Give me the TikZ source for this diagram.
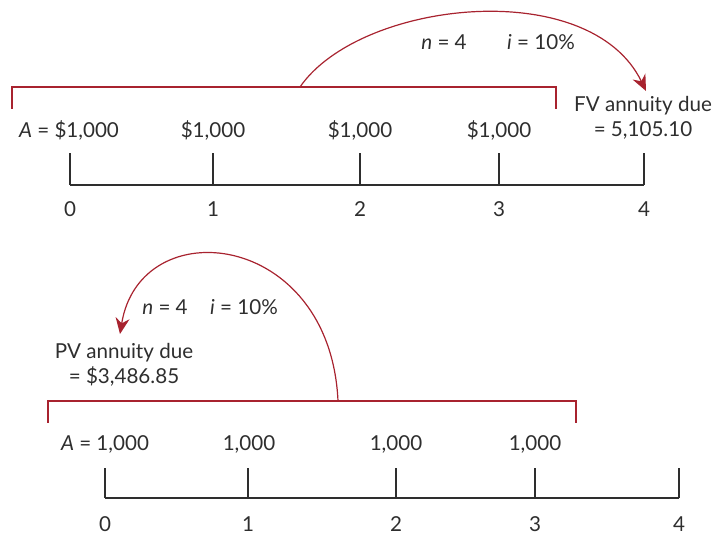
\documentclass[tikz,border=0pt]{standalone}
\usepackage{fontspec}
\setmainfont{Lato}
\usetikzlibrary{arrows.meta}
\definecolor{tRed}{HTML}{A8232F}
\definecolor{tInk}{HTML}{2E2E2E}
\tikzset{
  tline/.style={draw=tInk, line width=0.75pt},
  tbrace/.style={draw=tRed, line width=0.6pt},
  tarc/.style={draw=tRed, line width=0.6pt, -{Stealth[length=8pt,width=7pt]}},
  tnum/.style={font=\fontsize{10.3}{12.5}\selectfont, text=tInk, inner sep=0pt, align=center},
}

\begin{document}
\begin{tikzpicture}[x=0.5pt, y=-0.5pt]
  \useasboundingbox (0,0) rectangle (717,533);
  % future value line
  \foreach \k/\x in {0/70,1/213,2/360,3/499,4/644} {
    \coordinate (fb\k) at (\x,185);
    \coordinate (ft\k) at (\x,153);
    \node[tnum] (fl\k) at (\x,209) {\k};
    \draw[tline] (fb\k) -- (ft\k);
  }
  \draw[tline] (fb0) -- (fb4);
  \node[tnum] (fa0) at (69,130) {\textit{A} = \$1,000};
  \node[tnum] (fa1) at (213,130) {\$1,000};
  \node[tnum] (fa2) at (360,130) {\$1,000};
  \node[tnum] (fa3) at (499,130) {\$1,000};
  \node[tnum] (fv) at (643,117.5) {FV annuity due\\= 5,105.10};
  \node[tnum] (fn) at (444,42) {\textit{n} = 4};
  \node[tnum] (fi) at (541,42) {\textit{i} = 10\%};
  \coordinate (fbl) at (12,109);
  \coordinate (fbr) at (556,109);
  \coordinate (fbs) at (300,87);
  \coordinate (fvtip) at (646,91);
  \draw[tbrace] (fbl) -- (12,87) -- (556,87) -- (fbr);
  \draw[tarc] (fbs) .. controls (360,0) and (590,-25) .. (fvtip);
  % present value line
  \foreach \k/\x in {0/105,1/248,2/396,3/535,4/679} {
    \coordinate (pb\k) at (\x,498);
    \coordinate (pt\k) at (\x,468);
    \node[tnum] (pl\k) at (\x,524) {\k};
    \draw[tline] (pb\k) -- (pt\k);
  }
  \draw[tline] (pb0) -- (pb4);
  \node[tnum] (pa0) at (105,444) {\textit{A} = 1,000};
  \node[tnum] (pa1) at (249,444) {1,000};
  \node[tnum] (pa2) at (396,444) {1,000};
  \node[tnum] (pa3) at (535,444) {1,000};
  \node[tnum] (pv) at (124,364.5) {PV annuity due\\= \$3,486.85};
  \node[tnum] (pn) at (165,307) {\textit{n} = 4};
  \node[tnum] (pi) at (244,307) {\textit{i} = 10\%};
  \coordinate (pbl) at (48,423);
  \coordinate (pbr) at (576,423);
  \coordinate (pbs) at (338,401);
  \coordinate (pvtip) at (120,334);
  \draw[tbrace] (pbl) -- (48,401) -- (576,401) -- (pbr);
  \draw[tarc] (pbs) .. controls (330,230) and (140,210) .. (pvtip);
\end{tikzpicture}
\end{document}
